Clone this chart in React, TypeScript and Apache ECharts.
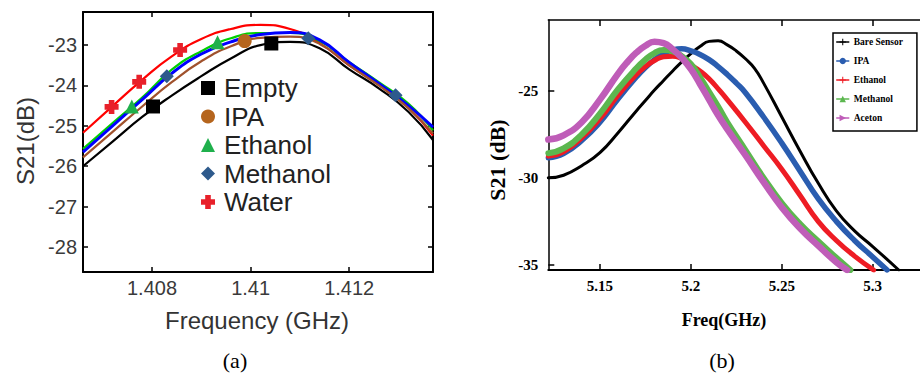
import React, { useEffect, useRef } from 'react';
import * as echarts from 'echarts';

// ---------- Panel (a) data ----------
const freqA = [1.4066, 1.4072, 1.4078, 1.4084, 1.409, 1.4096, 1.4102, 1.4108, 1.4114, 1.412, 1.4126, 1.4132, 1.4137];
const emptyLineA = [-26.0, -25.39, -24.78, -24.25, -23.77, -23.33, -23.0, -22.92, -23.08, -23.6, -24.07, -24.65, -25.35];
const ipaLineA = [-25.78, -25.15, -24.52, -23.92, -23.4, -23.03, -22.82, -22.79, -22.97, -23.5, -24.0, -24.56, -25.19];
const ethanolLineA = [-25.57, -24.93, -24.3, -23.61, -23.15, -22.83, -22.7, -22.7, -22.9, -23.42, -23.92, -24.45, -25.11];
const methanolLineA = [-25.65, -25.0, -24.35, -23.7, -23.22, -22.92, -22.74, -22.69, -22.87, -23.43, -23.95, -24.5, -25.03];
const waterLineA = [-25.17, -24.51, -23.86, -23.28, -22.85, -22.6, -22.5, -22.6, -22.95, -23.5, -23.98, -24.55, -25.24];

const emptyMarkX = [1.40802, 1.41042];
const emptyMarkY = [-24.52, -22.96];
const ipaMarkX = [1.40988];
const ipaMarkY = [-22.9];
const ethanolMarkX = [1.40759, 1.40933];
const ethanolMarkY = [-24.52, -22.93];
const methanolMarkX = [1.4083, 1.41117, 1.41294];
const methanolMarkY = [-23.77, -22.83, -24.24];
const waterMarkX = [1.40718, 1.40774, 1.40857];
const waterMarkY = [-24.53, -23.91, -23.12];

const xTicksA = [1.408, 1.41, 1.412];
const xTickLabelsA = ['1.408', '1.41', '1.412'];
const yTicksA = [-28, -27, -26, -25, -24, -23];

// ---------- Panel (b) data ----------
const bareSensorB = [[5.1216, -30.0], [5.13, -29.85], [5.14, -29.3], [5.15, -28.55], [5.16, -27.4], [5.17, -26.15], [5.175, -25.55], [5.18, -24.95], [5.185, -24.4], [5.19, -23.85], [5.195, -23.33], [5.2, -22.85], [5.205, -22.45], [5.21, -22.15], [5.215, -22.12], [5.22, -22.35], [5.225, -22.7], [5.23, -23.15], [5.235, -23.7], [5.24, -24.55], [5.25, -26.5], [5.26, -28.45], [5.27, -30.3], [5.28, -31.9], [5.29, -33.05], [5.3, -33.95], [5.3143, -35.3]];
const ipaB = [[5.1216, -28.85], [5.13, -28.6], [5.14, -27.85], [5.15, -26.8], [5.16, -25.45], [5.17, -24.2], [5.175, -23.65], [5.18, -23.2], [5.185, -22.85], [5.19, -22.65], [5.195, -22.58], [5.2, -22.7], [5.205, -22.9], [5.21, -23.2], [5.215, -23.6], [5.22, -24.05], [5.225, -24.55], [5.23, -25.1], [5.24, -26.5], [5.25, -28.0], [5.26, -29.6], [5.27, -31.2], [5.28, -32.5], [5.29, -33.6], [5.3, -34.55], [5.3079, -35.3]];
const ethanolB = [[5.1216, -28.75], [5.13, -28.5], [5.14, -27.7], [5.15, -26.6], [5.16, -25.25], [5.17, -24.05], [5.175, -23.6], [5.18, -23.25], [5.185, -23.03], [5.19, -23.0], [5.195, -23.15], [5.2, -23.5], [5.205, -23.85], [5.21, -24.3], [5.216, -25.0], [5.22, -25.5], [5.23, -26.8], [5.24, -28.15], [5.25, -29.5], [5.26, -31.0], [5.27, -32.5], [5.28, -33.6], [5.29, -34.5], [5.3005, -35.3]];
const methanolB = [[5.1216, -28.58], [5.13, -28.3], [5.14, -27.5], [5.15, -26.3], [5.16, -24.9], [5.17, -23.7], [5.175, -23.2], [5.18, -22.82], [5.185, -22.65], [5.19, -22.72], [5.195, -23.0], [5.2, -23.45], [5.205, -24.2], [5.21, -25.05], [5.215, -25.9], [5.22, -26.8], [5.23, -28.4], [5.24, -30.0], [5.25, -31.45], [5.26, -32.65], [5.27, -33.65], [5.28, -34.6], [5.2877, -35.3]];
const acetonB = [[5.1216, -27.8], [5.13, -27.55], [5.14, -26.8], [5.15, -25.5], [5.16, -24.0], [5.165, -23.35], [5.17, -22.8], [5.175, -22.4], [5.18, -22.17], [5.185, -22.25], [5.19, -22.6], [5.195, -23.1], [5.2, -23.75], [5.205, -24.6], [5.21, -25.5], [5.215, -26.4], [5.22, -27.2], [5.23, -28.7], [5.24, -30.25], [5.25, -31.7], [5.26, -32.9], [5.27, -33.9], [5.28, -34.85], [5.2859, -35.3]];

const xTicksB = [5.15, 5.2, 5.25, 5.3];
const xTickLabelsB = ['5.15', '5.2', '5.25', '5.3'];
const yTicksB = [-35, -30, -25];

const sansA = "'Liberation Sans', Arial, sans-serif";
const serifB = "'Liberation Serif', 'Times New Roman', serif";

const zip = (xs: number[], ys: number[]) => xs.map((x, i) => [x, ys[i]]);
const pick = (ticks: number[], labels: string[]) => (v: number) => {
  let best = 0;
  ticks.forEach((t, i) => { if (Math.abs(t - v) < Math.abs(ticks[best] - v)) best = i; });
  return labels[best];
};

const plusPath = 'path://M3,0H7V3H10V7H7V10H3V7H0V3H3Z';
const thinPlus = 'path://M4.2,0H5.8V4.2H10V5.8H5.8V10H4.2V5.8H0V4.2H4.2Z';
const rightTri = 'path://M0,0L10,5L0,10Z';

function buildOption(): any {
  const axisA = (pos: string, show: boolean, ticks: number[], min: number, max: number, labels?: (v: number) => string) => ({
    type: 'value', gridIndex: 0, position: pos, min, max,
    axisLine: { show: true, onZero: false, lineStyle: { color: '#000', width: 2 } },
    axisTick: { show: true, inside: true, length: 5, customValues: ticks, lineStyle: { color: '#000', width: 1.5 } },
    axisLabel: show ? { show: true, customValues: ticks, fontFamily: sansA, fontSize: 20, color: '#3a3a3a', margin: 6, formatter: labels } : { show: false },
    splitLine: { show: false },
  });
  const lineA = (name: string, ys: number[], color: string, width: number) => ({
    type: 'line', name, xAxisIndex: 0, yAxisIndex: 0, data: zip(freqA, ys), smooth: 0.5,
    showSymbol: false, symbol: 'none', lineStyle: { color, width }, itemStyle: { color }, z: 2, silent: true,
  });
  const markA = (name: string, xs: number[], ys: number[], symbol: string, size: number, color: string) => ({
    type: 'scatter', name, xAxisIndex: 0, yAxisIndex: 0, data: zip(xs, ys), symbol, symbolSize: size,
    itemStyle: { color, opacity: 1 }, z: 5, silent: true,
  });
  const lineB = (name: string, pts: number[][], color: string, width: number, symbol: string) => ({
    type: 'line', name, xAxisIndex: 2, yAxisIndex: 2, data: pts, smooth: 0.5, showSymbol: false, symbol, symbolSize: 6,
    lineStyle: { color, width, cap: 'round', join: 'round' }, itemStyle: { color }, z: 2, silent: true,
  });
  const fmtA = pick(xTicksA, xTickLabelsA);
  const fmtB = pick(xTicksB, xTickLabelsB);

  return {
    animation: false,
    backgroundColor: '#ffffff',
    grid: [
      { left: 83, top: 12, width: 350, height: 260 },
      { left: 548.3, top: 20, width: 371.7, height: 250 },
    ],
    xAxis: [
      axisA('bottom', true, xTicksA, 1.4066, 1.4137, fmtA),
      axisA('top', false, xTicksA, 1.4066, 1.4137),
      {
        type: 'value', gridIndex: 1, position: 'bottom', min: 5.1216, max: 5.326,
        axisLine: { show: true, onZero: false, lineStyle: { color: '#000', width: 2 } },
        axisTick: { show: true, inside: true, length: 6, customValues: xTicksB, lineStyle: { color: '#000', width: 1.5 } },
        axisLabel: { show: true, customValues: xTicksB, formatter: fmtB, fontFamily: serifB, fontWeight: 'bold', fontSize: 15, color: '#000', margin: 8 },
        splitLine: { show: false },
      },
      {
        type: 'value', gridIndex: 1, position: 'top', min: 5.1216, max: 5.326,
        axisLine: { show: true, onZero: false, lineStyle: { color: '#000', width: 1.5 } },
        axisTick: { show: true, inside: true, length: 6, customValues: xTicksB, lineStyle: { color: '#000', width: 1.5 } },
        axisLabel: { show: false },
        splitLine: { show: false },
      },
    ],
    yAxis: [
      { ...axisA('left', true, yTicksA, -28.62, -22.18, (v: number) => String(Math.round(v))), gridIndex: 0 },
      { ...axisA('right', false, yTicksA, -28.62, -22.18), gridIndex: 0 },
      {
        type: 'value', gridIndex: 1, position: 'left', min: -35.3, max: -20.92,
        axisLine: { show: true, onZero: false, lineStyle: { color: '#000', width: 1.5 } },
        axisTick: { show: true, inside: true, length: 6, customValues: yTicksB, lineStyle: { color: '#000', width: 1.5 } },
        axisLabel: { show: true, customValues: yTicksB, formatter: (v: number) => String(Math.round(v)), fontFamily: serifB, fontWeight: 'bold', fontSize: 15, color: '#000', margin: 10 },
        splitLine: { show: false },
      },
    ],
    legend: [
      {
        data: ['Empty', 'IPA', 'Ethanol', 'Methanol', 'Water'],
        orient: 'vertical', left: 201, top: 75, itemWidth: 14, itemHeight: 14, itemGap: 2.5,
        selectedMode: false, padding: 0,
        textStyle: { fontFamily: sansA, fontSize: 26, color: '#222', padding: [0, 0, 0, 4] },
      },
      {
        data: ['b:Bare Sensor', 'b:IPA', 'b:Ethanol', 'b:Methanol', 'b:Aceton'],
        formatter: (n: string) => n.slice(2),
        orient: 'vertical', left: 833, top: 33, padding: [4, 14, 8, 3], itemWidth: 12, itemHeight: 8, itemGap: 9,
        borderColor: '#000', borderWidth: 1.5, selectedMode: false,
        lineStyle: { width: 1.5 },
        textStyle: { fontFamily: serifB, fontWeight: 'bold', fontSize: 9.5, color: '#000' },
      },
    ],
    series: [
      lineA('a:water', waterLineA, '#ff0000', 2.2),
      lineA('a:empty', emptyLineA, '#000000', 2.2),
      lineA('a:ethanol', ethanolLineA, '#00d000', 2.2),
      lineA('a:methanol', methanolLineA, '#0000ff', 3),
      lineA('a:ipa', ipaLineA, '#a0522d', 2.2),
      markA('Empty', emptyMarkX, emptyMarkY, 'rect', 14, '#000000'),
      markA('IPA', ipaMarkX, ipaMarkY, 'circle', 14, '#b5651d'),
      markA('Ethanol', ethanolMarkX, ethanolMarkY, 'triangle', 14, '#1fb04c'),
      markA('Methanol', methanolMarkX, methanolMarkY, 'diamond', 14, '#2e5a8c'),
      markA('Water', waterMarkX, waterMarkY, plusPath, 14, '#e8202a'),
      lineB('b:Bare Sensor', bareSensorB, '#000000', 3, thinPlus),
      lineB('b:IPA', ipaB, '#2a5db0', 5.5, 'circle'),
      lineB('b:Ethanol', ethanolB, '#ee1c24', 5, thinPlus),
      lineB('b:Methanol', methanolB, '#5cb74f', 6, 'triangle'),
      lineB('b:Aceton', acetonB, '#bf5db8', 6.5, rightTri),
    ],
    graphic: [
      { type: 'text', x: 25, y: 141, rotation: Math.PI / 2, style: { text: 'S21(dB)', fontFamily: sansA, fontSize: 24, fill: '#333', align: 'center', verticalAlign: 'middle' } },
      { type: 'text', x: 257, y: 320, style: { text: 'Frequency (GHz)', fontFamily: sansA, fontSize: 24, fill: '#333', align: 'center', verticalAlign: 'middle' } },
      { type: 'text', x: 235, y: 360, style: { text: '(a)', fontFamily: serifB, fontSize: 22, fill: '#000', align: 'center', verticalAlign: 'middle' } },
      { type: 'text', x: 497, y: 160, rotation: Math.PI / 2, style: { text: 'S21 (dB)', fontFamily: serifB, fontWeight: 'bold', fontSize: 22, fill: '#000', align: 'center', verticalAlign: 'middle' } },
      { type: 'text', x: 724, y: 320, style: { text: 'Freq(GHz)', fontFamily: serifB, fontWeight: 'bold', fontSize: 18, fill: '#000', align: 'center', verticalAlign: 'middle' } },
      { type: 'text', x: 722, y: 360, style: { text: '(b)', fontFamily: serifB, fontSize: 22, fill: '#000', align: 'center', verticalAlign: 'middle' } },
    ],
  };
}

export default function App() {
  const ref = useRef<HTMLDivElement>(null);
  useEffect(() => {
    if (!ref.current) return;
    const chart = echarts.init(ref.current, null, { renderer: 'svg' });
    chart.setOption(buildOption());
    return () => chart.dispose();
  }, []);
  return (
    <div
      ref={ref}
      style={{ position: 'fixed', left: 0, top: 0, width: 920, height: 375, background: '#fff' }}
    />
  );
}
